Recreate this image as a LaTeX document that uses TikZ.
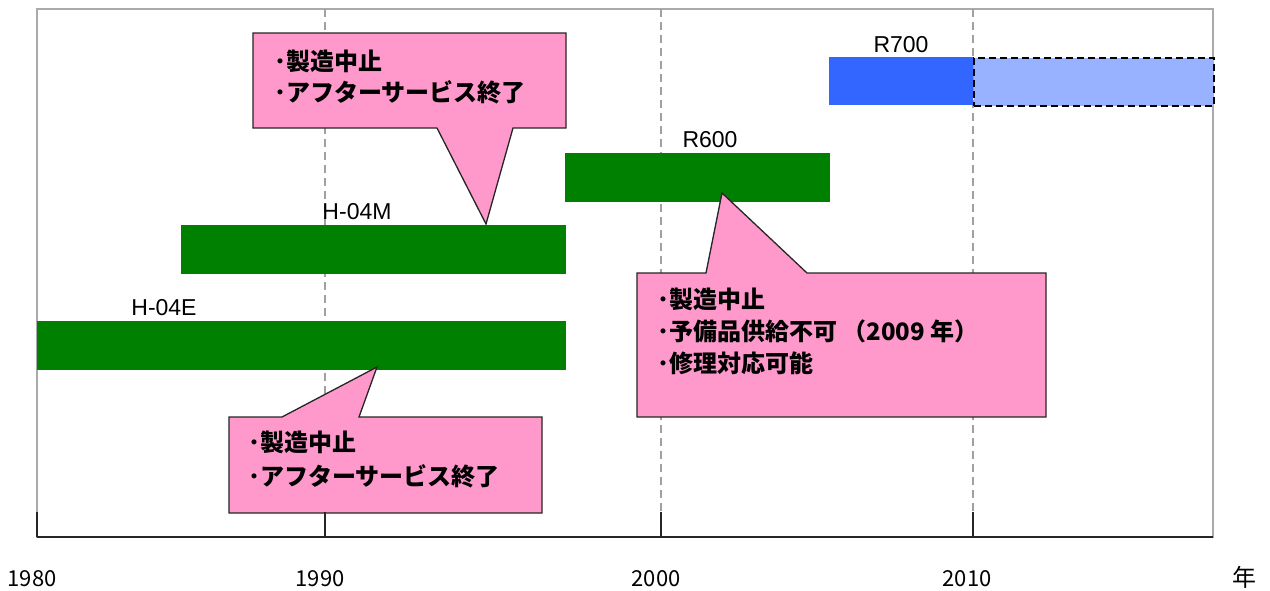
\documentclass[tikz,border=0pt]{standalone}
\usepackage{fontspec}
\setmainfont{Liberation Sans}
\newfontfamily\jp{Noto Sans CJK JP}
\definecolor{bargreen}{RGB}{0,128,0}
\definecolor{barblue}{RGB}{51,102,255}
\definecolor{lightblue}{RGB}{153,178,255}
\definecolor{calloutpink}{RGB}{255,153,204}
\definecolor{gridgray}{RGB}{160,160,160}
\definecolor{framegray}{RGB}{170,170,170}
\begin{document}
\begin{tikzpicture}[x=1pt,y=-1pt,
  bar/.style={draw=none,rectangle,inner sep=0pt,anchor=north west},
  barlabel/.style={font=\fontsize{23}{23}\selectfont,anchor=base,inner sep=0pt},
  callout/.style={fill=calloutpink,draw=black!85,line width=1.3pt,line join=miter},
  ctext/.style={font=\jp\bfseries\fontsize{24}{24}\selectfont,anchor=base west,inner sep=0pt},
  axislabel/.style={font=\jp\fontsize{22}{22}\selectfont,anchor=base,inner sep=0pt},
  grid/.style={draw=gridgray,line width=1.3pt,dash pattern=on 8pt off 5pt},
  tick/.style={draw=black!85,line width=2pt}]
\useasboundingbox (0,0) rectangle (1270,590);
\fill[white] (0,0) rectangle (1270,590);
% frame
\draw[framegray,line width=1.6pt] (37,9) rectangle (1213,537);
% grid lines
\coordinate (g1t) at (325,9);  \coordinate (g1b) at (325,537);
\coordinate (g2t) at (661,9);  \coordinate (g2b) at (661,537);
\coordinate (g3t) at (973,9);  \coordinate (g3b) at (973,537);
\draw[grid] (g1t) -- (g1b);
\draw[grid] (g2t) -- (g2b);
\draw[grid] (g3t) -- (g3b);
% bars
\node[bar,fill=bargreen,minimum width=529pt,minimum height=49pt] (h04e) at (37,321) {};
\node[bar,fill=bargreen,minimum width=385pt,minimum height=49pt] (h04m) at (181,225) {};
\node[bar,fill=bargreen,minimum width=265pt,minimum height=49pt] (r600) at (565,153) {};
\node[bar,fill=barblue,minimum width=144pt,minimum height=48pt] (r700) at (829,57) {};
\node[bar,fill=lightblue,draw=black,line width=2pt,dash pattern=on 7pt off 4pt,minimum width=240pt,minimum height=48pt] (r700f) at (973,57) {};
% bar labels
\node[barlabel] (lh04e) at (164,315) {H-04E};
\node[barlabel] (lh04m) at (357,219) {H-04M};
\node[barlabel] (lr600) at (710,147) {R600};
\node[barlabel] (lr700) at (901,52) {R700};
% callouts
\draw[callout] (253,33) -- (566,33) -- (566,128) -- (513,128) -- (486,224) -- (437,128) -- (253,128) -- cycle;
\draw[callout] (637,273) -- (706,273) -- (722,193) -- (807,273) -- (1046,273) -- (1046,417) -- (637,417) -- cycle;
\draw[callout] (229,417) -- (282,417) -- (377,367) -- (359,417) -- (542,417) -- (542,513) -- (229,513) -- cycle;
\node[ctext] (c1a) at (274,70) {･製造中止};
\node[ctext] (c1b) at (274,101) {･アフターサービス終了};
\node[ctext] (c2a) at (657,308) {･製造中止};
\node[ctext] (c2b) at (657,340) {･予備品供給不可 （2009 年）};
\node[ctext] (c2c) at (657,372) {･修理対応可能};
\node[ctext] (c3a) at (248,451) {･製造中止};
\node[ctext] (c3b) at (248,485) {･アフターサービス終了};
% axis
\coordinate (axl) at (37,537); \coordinate (axr) at (1213,537);
\draw[tick] (axl) -- (axr);
\draw[tick] (37,512) -- (37,537);
\draw[tick] (325,512) -- (325,537);
\draw[tick] (661,512) -- (661,537);
\draw[tick] (973,512) -- (973,537);
\node[axislabel] (y1980) at (32,586) {1980};
\node[axislabel] (y1990) at (320,586) {1990};
\node[axislabel] (y2000) at (656,586) {2000};
\node[axislabel] (y2010) at (967,586) {2010};
\node[axislabel,font=\jp\fontsize{24}{24}\selectfont] (ynen) at (1244,586) {年};
\end{tikzpicture}
\end{document}
